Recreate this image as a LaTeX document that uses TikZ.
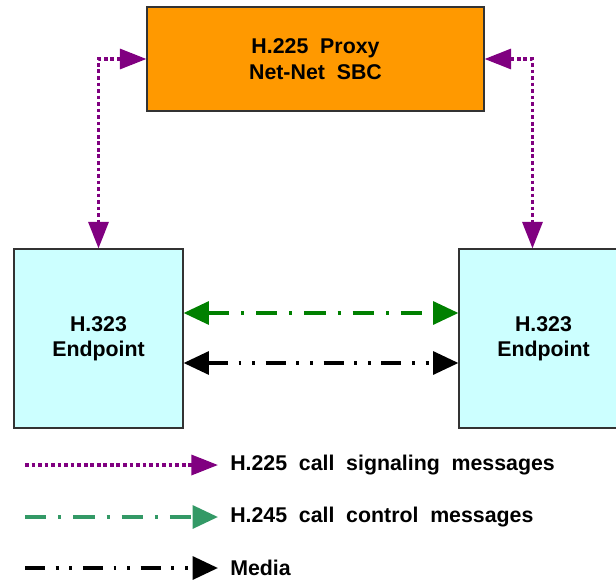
\documentclass[tikz,border=0pt]{standalone}
\usepackage{fontspec}
\setmainfont{Liberation Sans}
\usetikzlibrary{arrows.meta,positioning,calc}
\definecolor{proxyorange}{HTML}{FF9900}
\definecolor{epcyan}{HTML}{CCFFFF}
\definecolor{sigpurple}{HTML}{800080}
\definecolor{ctlgreen}{HTML}{008000}
\definecolor{leggreen}{HTML}{339966}
\tikzset{
  blk/.style={draw=black!80,rectangle,line width=0.8pt,align=center,
    font=\fontsize{16}{19}\selectfont\bfseries},
  proxyblk/.style={blk,fill=proxyorange,minimum width=252.75pt,minimum height=78pt},
  epblk/.style={blk,fill=epcyan,minimum width=126.75pt,minimum height=134.25pt},
  sigarr/.style={sigpurple,line width=2.6pt,dash pattern=on 2.8pt off 2.1pt,
    {Triangle[length=20pt,width=15pt]}-{Triangle[length=20pt,width=15pt]}},
  ctlarr/.style={ctlgreen,line width=3pt,dash pattern=on 16pt off 9pt on 2.2pt off 9pt,
    {Triangle[length=19pt,width=17pt]}-{Triangle[length=19pt,width=17pt]}},
  medarr/.style={black,line width=3pt,dash pattern=on 15pt off 8pt on 2.2pt off 8pt on 2.2pt off 8pt,
    {Triangle[length=19pt,width=17pt]}-{Triangle[length=19pt,width=17pt]}},
  lbl/.style={font=\fontsize{16}{19}\selectfont\bfseries,anchor=west,inner xsep=9pt,
    execute at begin node={\spaceskip=0.55em plus 0.1em}}
}
\begin{document}
\begin{tikzpicture}[x=0.75pt,y=-0.75pt]
  \useasboundingbox (0,0) rectangle (616,581);
  \clip (0,0) rectangle (616,581);
  % Proxy and endpoints
  \node[proxyblk] (proxy) at (315.5,59) {H.225\ \ Proxy\\Net-Net\ \ SBC};
  \node[epblk] (epL) at (98.5,338.5) {H.323\\Endpoint};
  \node[epblk] (epR) at (543.5,338.5) {H.323\\Endpoint};
  \coordinate (epRtop) at ($(epR.north west)+(74,0)$);

  % Signaling
  \draw[sigarr] (proxy.west) -| (epL.north);
  \draw[sigarr] (proxy.east) -| (epRtop);

  % Control and media
  \draw[ctlarr] ($(epL.east)+(0,-25.5)$) -- ($(epR.west)+(0,-25.5)$);
  \draw[medarr] ($(epL.east)+(0,24.5)$) -- ($(epR.west)+(0,24.5)$);

  % Legend
  \coordinate (leg1s) at (25,465);
  \coordinate (leg2s) at (25,517);
  \coordinate (leg3s) at (25,568);
  \node[lbl] (leg1) at (218,465) {H.225 call signaling messages};
  \node[lbl] (leg2) at (218,517) {H.245 call control messages};
  \node[lbl] (leg3) at (218,568) {Media};
  \draw[sigarr,-{Triangle[length=20pt,width=15pt]}] (leg1s) -- (leg1.west);
  \draw[ctlarr,leggreen,-{Triangle[length=19pt,width=17pt]}] (leg2s) -- (leg2.west);
  \draw[medarr,-{Triangle[length=19pt,width=17pt]}] (leg3s) -- (leg3.west);
\end{tikzpicture}
\end{document}
